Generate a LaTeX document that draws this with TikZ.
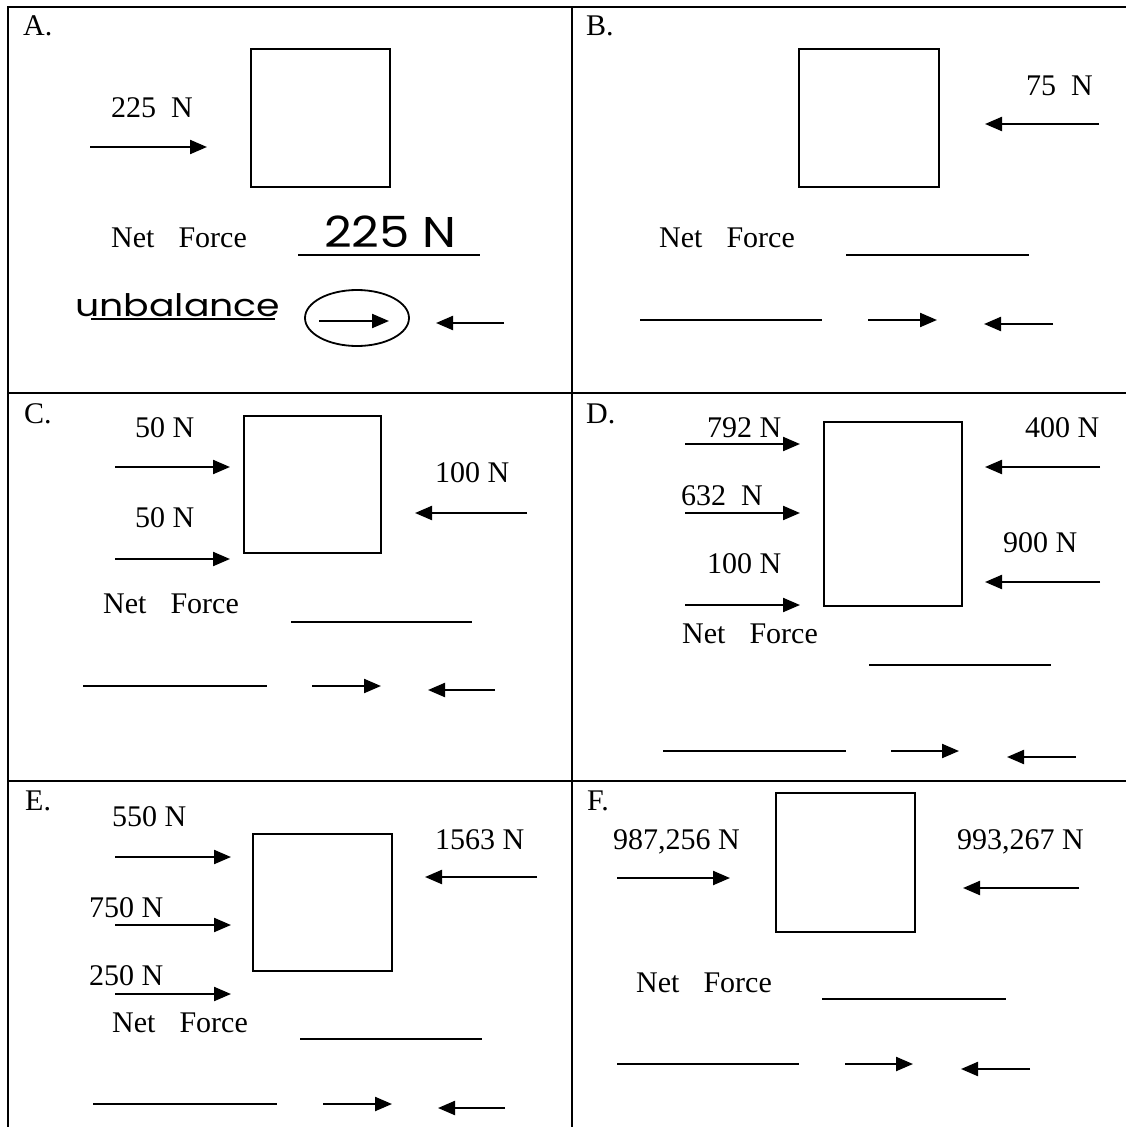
\documentclass[tikz,border=0pt]{standalone}
\usepackage{xcolor}
\usepackage{tikz}
\usepackage{fontspec}
\setmainfont{Liberation Serif}
\newfontfamily\handfont{Poppins}
\usetikzlibrary{arrows.meta,positioning,calc}

\newcommand{\netforce}{Net\hspace{0.8em}Force}

\begin{document}
\begin{tikzpicture}[
    x=1pt, y=-1pt,
    txt/.style={anchor=base west, inner sep=0pt, font=\fontsize{30}{35}\selectfont},
    hand/.style={anchor=base west, inner sep=0pt},
    grid/.style={line width=1.8pt},
    box/.style={draw, line width=2.2pt},
    blank/.style={line width=2.2pt},
    pushr/.style={-{Triangle[length=17pt,width=14pt]}, line width=2.2pt},
    pushl/.style={-{Triangle[length=17pt,width=14pt]}, line width=2.2pt}
]
\useasboundingbox (0,0) rectangle (1126,1127);

% table
\draw[grid] (8,1127) -- (8,7) -- (1126,7);
\draw[grid] (572,7) -- (572,1127);
\draw[grid] (8,393) -- (1126,393);
\draw[grid] (8,781) -- (1126,781);

% A.
\node[txt] (labA) at (23,35) {A.};
\node[txt] (fA1) at (111,117) {225~~N};
\draw[pushr] (90,147) -- (207,147);
\draw[box] (251,49) rectangle (390,187);
\node[txt] (netA) at (111,247) {\netforce};
\node[hand, font=\handfont\fontsize{43}{48}\selectfont] (ansA) at (324,247) {\scalebox{1.12}[1]{225 N}};
\draw[blank] (298,255) -- (480,255);
\node[hand, font=\handfont\fontsize{31}{36}\selectfont] (dirA) at (75,316) {\scalebox{1.22}[1]{unbalance}};
\draw[blank] (91,319) -- (275,319);
\draw[line width=1.8pt] (357,318) ellipse [x radius=52, y radius=28];
\draw[pushr] (319,321) -- (389,321);
\draw[pushl] (504,323) -- (436,323);

% B.
\node[txt] (labB) at (586,35) {B.};
\draw[box] (799,49) rectangle (939,187);
\node[txt] (fB1) at (1026,95) {75~~N};
\draw[pushl] (1099,124) -- (985,124);
\node[txt] (netB) at (659,247) {\netforce};
\draw[blank] (846,255) -- (1029,255);
\draw[blank] (640,320) -- (822,320);
\draw[pushr] (868,320) -- (937,320);
\draw[pushl] (1053,324) -- (984,324);

% C.
\node[txt] (labC) at (24,423) {C.};
\node[txt] (fC1) at (135,437) {50 N};
\draw[pushr] (115,467) -- (230,467);
\node[txt] (fC2) at (135,527) {50 N};
\draw[pushr] (115,559) -- (230,559);
\draw[box] (244,416) rectangle (381,553);
\node[txt] (fC3) at (435,482) {100 N};
\draw[pushl] (527,513) -- (415,513);
\node[txt] (netC) at (103,613) {\netforce};
\draw[blank] (291,622) -- (472,622);
\draw[blank] (83,686) -- (267,686);
\draw[pushr] (312,686) -- (381,686);
\draw[pushl] (495,690) -- (428,690);

% D.
\node[txt] (labD) at (586,423) {D.};
\node[txt] (fD1) at (707,437) {792 N};
\draw[pushr] (685,444) -- (800,444);
\node[txt] (fD2) at (681,505) {632~~N};
\draw[pushr] (685,513) -- (800,513);
\node[txt] (fD3) at (707,573) {100 N};
\draw[pushr] (685,605) -- (800,605);
\draw[box] (824,422) rectangle (962,606);
\node[txt] (fD4) at (1025,437) {400 N};
\draw[pushl] (1100,467) -- (985,467);
\node[txt] (fD5) at (1003,552) {900 N};
\draw[pushl] (1100,582) -- (985,582);
\node[txt] (netD) at (682,643) {\netforce};
\draw[blank] (869,665) -- (1051,665);
\draw[blank] (663,751) -- (846,751);
\draw[pushr] (891,751) -- (959,751);
\draw[pushl] (1076,757) -- (1007,757);

% E.
\node[txt] (labE) at (25,810) {E.};
\node[txt] (fE1) at (112,826) {550 N};
\draw[pushr] (115,857) -- (231,857);
\node[txt] (fE2) at (89,917) {750 N};
\draw[pushr] (115,925) -- (231,925);
\node[txt] (fE3) at (89,985) {250 N};
\draw[pushr] (115,994) -- (231,994);
\draw[box] (253,834) rectangle (392,971);
\node[txt] (fE4) at (435,849) {1563 N};
\draw[pushl] (537,877) -- (425,877);
\node[txt] (netE) at (112,1032) {\netforce};
\draw[blank] (300,1039) -- (482,1039);
\draw[blank] (93,1104) -- (277,1104);
\draw[pushr] (323,1104) -- (392,1104);
\draw[pushl] (505,1108) -- (438,1108);

% F.
\node[txt] (labF) at (587,810) {F.};
\draw[box] (776,793) rectangle (915,932);
\node[txt] (fF1) at (613,849) {987,256 N};
\draw[pushr] (617,878) -- (730,878);
\node[txt] (fF2) at (957,849) {993,267 N};
\draw[pushl] (1079,888) -- (963,888);
\node[txt] (netF) at (636,992) {\netforce};
\draw[blank] (822,999) -- (1006,999);
\draw[blank] (617,1064) -- (799,1064);
\draw[pushr] (845,1064) -- (913,1064);
\draw[pushl] (1030,1069) -- (961,1069);

\end{tikzpicture}
\end{document}
